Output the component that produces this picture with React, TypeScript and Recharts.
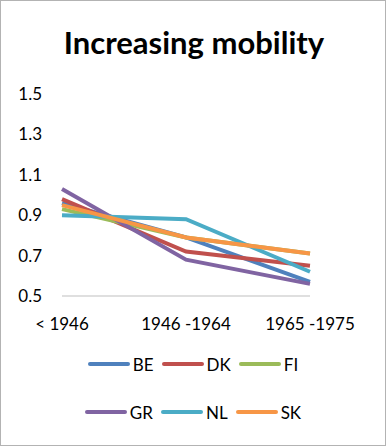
import React from 'react';
import { LineChart, Line, XAxis, YAxis, Legend } from 'recharts';

const periods = ['< 1946', '1946 -1964', '1965 -1975'];
const yTicks = [0.5, 0.7, 0.9, 1.1, 1.3, 1.5];

const beValues = [0.96, 0.79, 0.57];
const dkValues = [0.98, 0.72, 0.65];
const fiValues = [0.93, 0.79, 0.71];
const grValues = [1.03, 0.68, 0.56];
const nlValues = [0.9, 0.88, 0.62];
const skValues = [0.95, 0.79, 0.71];

const series = [
  { key: 'BE', values: beValues, color: '#4F81BD' },
  { key: 'DK', values: dkValues, color: '#C0504D' },
  { key: 'FI', values: fiValues, color: '#9BBB59' },
  { key: 'GR', values: grValues, color: '#8064A2' },
  { key: 'NL', values: nlValues, color: '#4BACC6' },
  { key: 'SK', values: skValues, color: '#F79646' },
];

const data = periods.map((p, i) => {
  const row: any = { name: p };
  series.forEach(s => { row[s.key] = s.values[i]; });
  return row;
});

const font = 'Lato, "Open Sans", sans-serif';

// two rows of three, like the Excel legend
const LegendRows = ({ payload }: any) => {
  const items = payload || [];
  const rows = [items.slice(0, 3), items.slice(3, 6)];
  return (
    <div style={{ fontFamily: font, fontSize: 17, color: '#000' }}>
      {rows.map((row: any[], r: number) => (
        <div key={r} style={{ height: 48, display: 'flex', alignItems: 'center', justifyContent: 'center', gap: 8 }}>
          {row.map((it: any) => (
            <div key={it.value} style={{ display: 'flex', alignItems: 'center' }}>
              <span style={{ display: 'inline-block', width: 42, height: 4, borderRadius: 2, background: it.color, marginRight: 3 }} />
              <span>{it.value}</span>
            </div>
          ))}
        </div>
      ))}
    </div>
  );
};

export default function App() {
  return (
    <div style={{ position: 'absolute', left: 0, top: 0, width: 386, height: 446, boxSizing: 'border-box', border: '1px solid #b3b3b3', background: '#fff' }}>
      <div style={{ position: 'absolute', top: 22, left: 0, width: 386, textAlign: 'center', fontFamily: font, fontWeight: 700, fontSize: 31, color: '#000' }}>
        Increasing mobility
      </div>
      <div style={{ position: 'absolute', left: -1, top: -1 }}>
        <LineChart width={386} height={446} data={data} margin={{ top: 94, right: 76, left: 22, bottom: 120 }}>
          <XAxis
            dataKey="name"
            interval={0}
            height={30}
            tickSize={0}
            tickMargin={22}
            stroke="#bfbfbf"
            tick={{ fill: '#000', fontSize: 17, fontFamily: font }}
          />
          <YAxis
            width={40}
            domain={[0.5, 1.5]}
            ticks={yTicks}
            tickFormatter={(v: number) => v.toFixed(1)}
            axisLine={false}
            tickLine={false}
            tickSize={0}
            tickMargin={20}
            tick={{ fill: '#000', fontSize: 17, fontFamily: font }}
          />
          <Legend
            layout="horizontal"
            verticalAlign="middle"
            align="center"
            wrapperStyle={{ top: 340, left: 0, width: 386 }}
            content={<LegendRows />}
          />
          {series.map(s => (
            <Line
              key={s.key}
              dataKey={s.key}
              stroke={s.color}
              strokeWidth={4}
              dot={false}
              type="linear"
              isAnimationActive={false}
            />
          ))}
        </LineChart>
      </div>
    </div>
  );
}
